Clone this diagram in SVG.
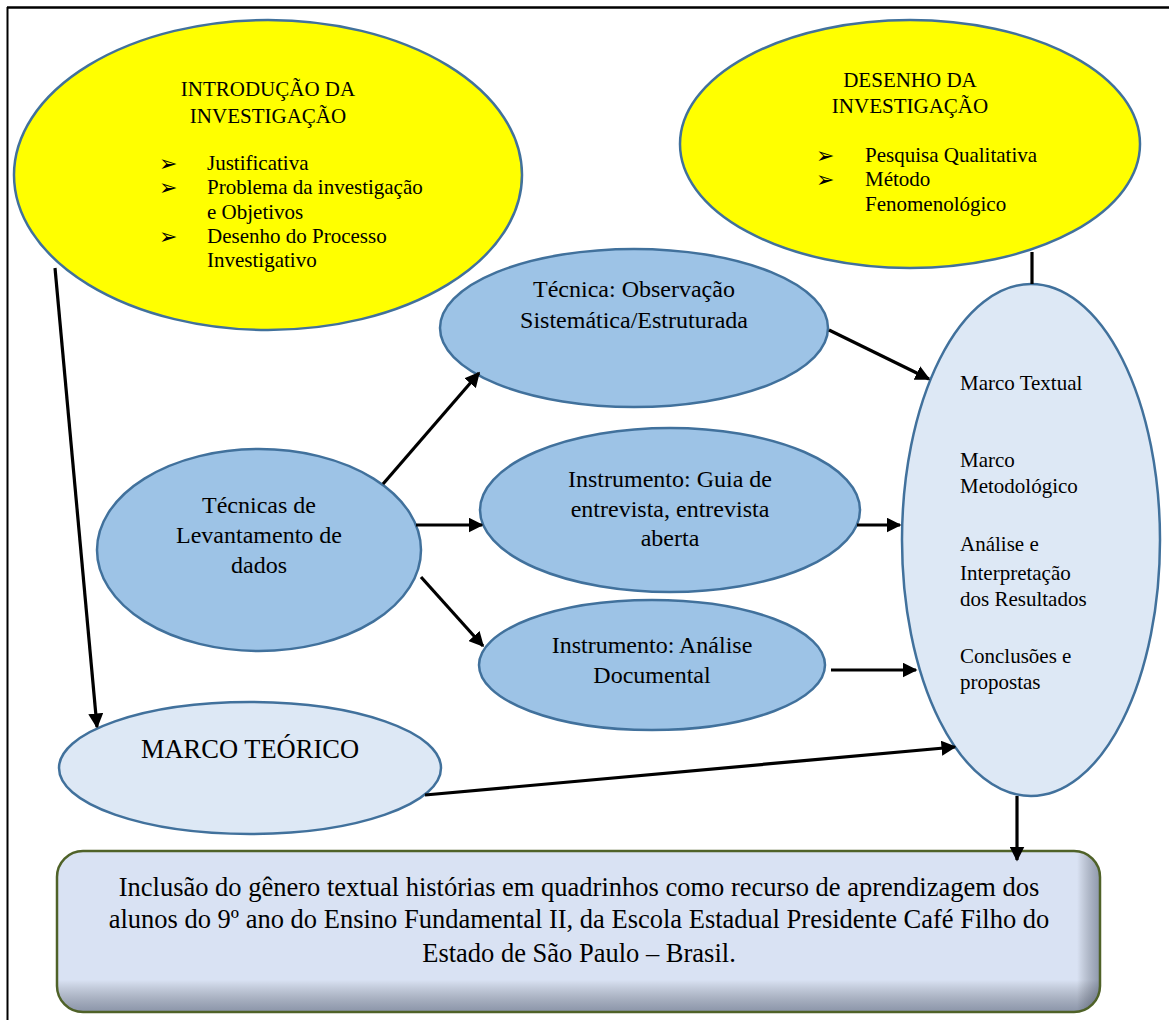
<svg xmlns="http://www.w3.org/2000/svg" width="1169" height="1020" viewBox="0 0 1169 1020">
<style>
.t{font-family:"Liberation Serif","Times New Roman",serif;fill:#000}
.s21{font-size:21px}
.s24{font-size:24px}
.s26{font-size:26.5px}
.c{text-anchor:middle}
.b{font-family:"DejaVu Sans",sans-serif;font-size:22px;fill:#000}
.yel{fill:#FFFF00;stroke:#41719C;stroke-width:2.5}
.mid{fill:#9DC3E6;stroke:#41719C;stroke-width:2.5}
.lt{fill:#DDE8F5;stroke:#41719C;stroke-width:2.5}
.con line{stroke:#000;stroke-width:3.2;fill:none}
</style>
<defs>
<marker id="ah" viewBox="0 0 10 10" refX="9" refY="5" markerWidth="15" markerHeight="15" markerUnits="userSpaceOnUse" orient="auto">
<path d="M0,0 L10,5 L0,10 z" fill="#000"/>
</marker>
<linearGradient id="gv" x1="0" y1="0" x2="0" y2="1">
<stop offset="0" stop-color="#000" stop-opacity="0"/>
<stop offset="0.8" stop-color="#000" stop-opacity="0"/>
<stop offset="1" stop-color="#1F2A44" stop-opacity="0.42"/>
</linearGradient>
<linearGradient id="gh" x1="0" y1="0" x2="1" y2="0">
<stop offset="0" stop-color="#000" stop-opacity="0"/>
<stop offset="0.978" stop-color="#000" stop-opacity="0"/>
<stop offset="1" stop-color="#1F2A44" stop-opacity="0.4"/>
</linearGradient>
<clipPath id="bx"><rect x="57" y="851" width="1043" height="161" rx="26" ry="26"/></clipPath>
</defs>
<rect width="1169" height="1020" fill="#fff"/>
<g id="frame">
<line x1="7" y1="7.5" x2="1169" y2="7.5" stroke="#000" stroke-width="2.5"/>
<line x1="7.5" y1="7" x2="7.5" y2="1020" stroke="#000" stroke-width="2"/>
</g>
<g id="intro">
<ellipse class="yel" cx="268" cy="175" rx="254" ry="155"/>
<text class="t s21 c" x="268" y="96">INTRODUÇÃO DA</text>
<text class="t s21 c" x="268" y="123">INVESTIGAÇÃO</text>
<text class="b" x="159" y="171">➢</text>
<text class="b" x="159" y="195">➢</text>
<text class="b" x="159" y="244">➢</text>
<text class="t s21" x="207" y="170">Justificativa</text>
<text class="t s21" x="207" y="194">Problema da investigação</text>
<text class="t s21" x="207" y="219">e Objetivos</text>
<text class="t s21" x="207" y="243">Desenho do Processo</text>
<text class="t s21" x="207" y="267">Investigativo</text>
</g>
<g id="desenho">
<ellipse class="yel" cx="910" cy="144" rx="230" ry="124"/>
<text class="t s21 c" x="910" y="87">DESENHO DA</text>
<text class="t s21 c" x="910" y="113">INVESTIGAÇÃO</text>
<text class="b" x="816" y="163">➢</text>
<text class="b" x="816" y="187">➢</text>
<text class="t s21" x="865" y="162">Pesquisa Qualitativa</text>
<text class="t s21" x="865" y="186">Método</text>
<text class="t s21" x="865" y="211">Fenomenológico</text>
</g>
<g id="tecnica">
<ellipse class="mid" cx="634" cy="328" rx="194" ry="79"/>
<text class="t s24 c" x="634" y="297">Técnica: Observação</text>
<text class="t s24 c" x="634" y="328">Sistemática/Estruturada</text>
</g>
<g id="guia">
<ellipse class="mid" cx="670" cy="510" rx="190" ry="82"/>
<text class="t s24 c" x="670" y="487">Instrumento: Guia de</text>
<text class="t s24 c" x="670" y="517">entrevista, entrevista</text>
<text class="t s24 c" x="670" y="546">aberta</text>
</g>
<g id="analise">
<ellipse class="mid" cx="652" cy="665" rx="173" ry="65"/>
<text class="t s24 c" x="652" y="653">Instrumento: Análise</text>
<text class="t s24 c" x="652" y="683">Documental</text>
</g>
<g id="tecnicas">
<ellipse class="mid" cx="259" cy="550" rx="162" ry="101"/>
<text class="t s24 c" x="259" y="513">Técnicas de</text>
<text class="t s24 c" x="259" y="543">Levantamento de</text>
<text class="t s24 c" x="259" y="573">dados</text>
</g>
<g id="marco-teorico">
<ellipse class="lt" cx="250" cy="768" rx="191" ry="66"/>
<text class="t s26 c" x="250" y="758">MARCO TEÓRICO</text>
</g>
<g id="marco">
<ellipse class="lt" cx="1031" cy="540" rx="129" ry="256"/>
<text class="t s21" x="960" y="390">Marco Textual</text>
<text class="t s21" x="960" y="467">Marco</text>
<text class="t s21" x="960" y="493">Metodológico</text>
<text class="t s21" x="960" y="551">Análise e</text>
<text class="t s21" x="960" y="580">Interpretação</text>
<text class="t s21" x="960" y="606">dos Resultados</text>
<text class="t s21" x="960" y="663">Conclusões e</text>
<text class="t s21" x="960" y="689">propostas</text>
</g>
<g id="conclusao">
<rect x="57" y="851" width="1043" height="161" rx="26" ry="26" fill="#D9E2F3"/>
<g clip-path="url(#bx)">
<rect x="57" y="851" width="1043" height="161" fill="url(#gv)"/>
<rect x="57" y="851" width="1043" height="161" fill="url(#gh)"/>
</g>
<rect x="57" y="851" width="1043" height="161" rx="26" ry="26" fill="none" stroke="#4F6228" stroke-width="2.5"/>
<text class="t s26 c" x="579" y="896">Inclusão do gênero textual histórias em quadrinhos como recurso de aprendizagem dos</text>
<text class="t s26 c" x="579" y="928">alunos do 9º ano do Ensino Fundamental II, da Escola Estadual Presidente Café Filho do</text>
<text class="t s26 c" x="579" y="962">Estado de São Paulo – Brasil.</text>
</g>
<g id="connectors" class="con">
<line x1="55" y1="268" x2="97" y2="727" marker-end="url(#ah)"/>
<line x1="383" y1="484" x2="479" y2="373" marker-end="url(#ah)"/>
<line x1="416" y1="525" x2="482" y2="525" marker-end="url(#ah)"/>
<line x1="421" y1="577" x2="483" y2="646" marker-end="url(#ah)"/>
<line x1="829" y1="330" x2="929" y2="379" marker-end="url(#ah)"/>
<line x1="857" y1="525" x2="900" y2="525" marker-end="url(#ah)"/>
<line x1="831" y1="670" x2="916" y2="670" marker-end="url(#ah)"/>
<line x1="425" y1="795" x2="955" y2="747" marker-end="url(#ah)"/>
<line x1="1032" y1="252" x2="1032" y2="284"/>
<line x1="1017" y1="796" x2="1017" y2="860" marker-end="url(#ah)"/>
</g>
</svg>
